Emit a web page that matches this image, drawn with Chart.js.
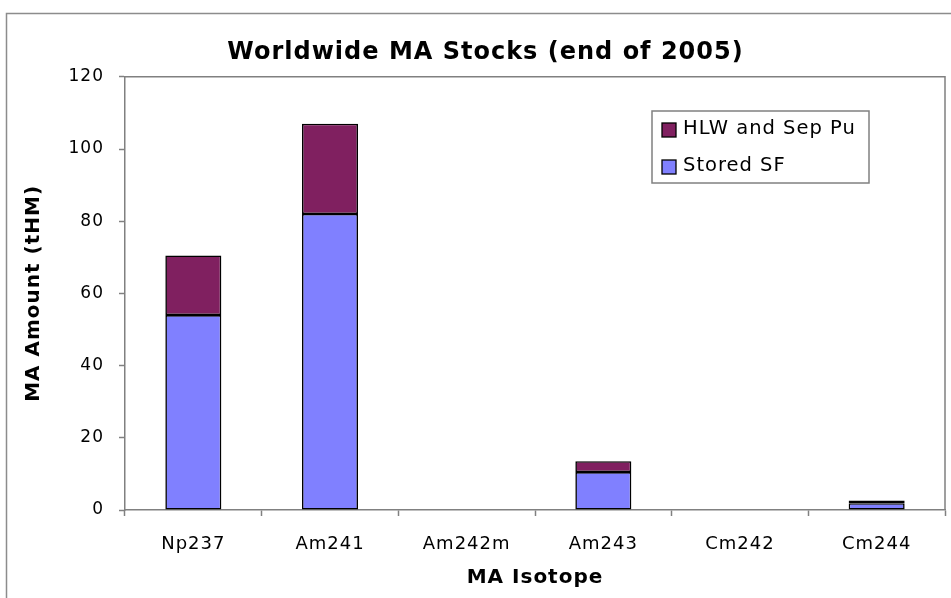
<!DOCTYPE html>
<html>
<head>
<meta charset="utf-8">
<script src="https://cdn.jsdelivr.net/npm/chart.js@4/dist/chart.umd.min.js"></script>
<style>
  html, body { margin: 0; padding: 0; background: #ffffff; }
  #wrap { width: 951px; height: 598px; position: relative; }
</style>
</head>
<body>
<div id="wrap"><canvas id="c" width="951" height="598"></canvas></div>
<script>
// Minor actinide inventories, tonnes of heavy metal
const isotopes = ['Np237', 'Am241', 'Am242m', 'Am243', 'Cm242', 'Cm244'];
const storedSF = [54, 82, 0, 10.5, 0, 1.9];
const hlwSepPu = [16.5, 25, 0, 3, 0, 0.7];
const yTicks = [0, 20, 40, 60, 80, 100, 120];

const FONT = '"DejaVu Sans", Verdana, sans-serif';
const GRAY = '#808080';
const SPACING = '1px';

// slightly open letter spacing for every label on the canvas
const spacingPlugin = {
  id: 'spacing',
  beforeUpdate(chart) { chart.ctx.letterSpacing = SPACING; },
  beforeDraw(chart) { chart.ctx.letterSpacing = SPACING; }
};

// white page with the outer frame and the plot-area border
const framePlugin = {
  id: 'frame',
  beforeDraw(chart) {
    const ctx = chart.ctx;
    ctx.save();
    ctx.fillStyle = '#ffffff';
    ctx.fillRect(0, 0, chart.width, chart.height);
    ctx.strokeStyle = '#8c8c8c';
    ctx.lineWidth = 1.5;
    ctx.beginPath();
    ctx.moveTo(6.5, chart.height + 2);
    ctx.lineTo(6.5, 13.5);
    ctx.lineTo(chart.width + 2, 13.5);
    ctx.stroke();
    ctx.restore();
  },
  afterDatasetsDraw(chart) {
    const a = chart.chartArea;
    const ctx = chart.ctx;
    ctx.save();
    ctx.strokeStyle = GRAY;
    ctx.lineWidth = 1.5;
    ctx.beginPath();
    ctx.moveTo(a.left, a.top);
    ctx.lineTo(a.right, a.top);
    ctx.lineTo(a.right, a.bottom);
    ctx.stroke();
    ctx.restore();
  }
};

// boxed legend inside the plot area, top series listed first
const boxLegend = {
  id: 'boxLegend',
  afterDraw(chart) {
    const ctx = chart.ctx;
    const x = 652, y = 111, w = 217, h = 72;
    ctx.save();
    ctx.fillStyle = '#ffffff';
    ctx.fillRect(x, y, w, h);
    ctx.strokeStyle = GRAY;
    ctx.lineWidth = 1.5;
    ctx.strokeRect(x, y, w, h);
    const items = chart.data.datasets.slice().reverse();
    ctx.font = '19.5px ' + FONT;
    ctx.textBaseline = 'middle';
    ctx.textAlign = 'left';
    items.forEach((ds, i) => {
      const cy = y + 19 + i * 37;
      ctx.fillStyle = ds.backgroundColor;
      ctx.fillRect(x + 10, cy - 7, 14, 14);
      ctx.strokeStyle = '#000000';
      ctx.lineWidth = 1.3;
      ctx.strokeRect(x + 10, cy - 7, 14, 14);
      ctx.fillStyle = '#000000';
      ctx.fillText(ds.label, x + 31, cy - 1);
    });
    ctx.restore();
  }
};

new Chart(document.getElementById('c'), {
  type: 'bar',
  data: {
    labels: isotopes,
    datasets: [
      { label: 'Stored SF', data: storedSF, backgroundColor: '#8080ff',
        borderColor: '#000000', borderWidth: 1.6, borderSkipped: false },
      { label: 'HLW and Sep Pu', data: hlwSepPu, backgroundColor: '#802060',
        borderColor: '#000000', borderWidth: 1.6, borderSkipped: false }
    ]
  },
  options: {
    responsive: false,
    animation: false,
    devicePixelRatio: 1,
    layout: { padding: { left: 26, right: 6, top: 0, bottom: 0 } },
    datasets: { bar: { barPercentage: 0.41, categoryPercentage: 1.0 } },
    plugins: {
      legend: { display: false },
      tooltip: { enabled: false },
      title: {
        display: true,
        text: 'Worldwide MA Stocks (end of 2005)',
        color: '#000000',
        font: { family: FONT, size: 24, weight: 'bold', lineHeight: 1.2 },
        padding: { top: 38, bottom: 10 }
      }
    },
    scales: {
      x: {
        stacked: true,
        grid: { display: true, drawOnChartArea: false, offset: true, color: GRAY, tickLength: 6, tickWidth: 1.5 },
        border: { display: true, color: GRAY, width: 1.5 },
        ticks: { color: '#000000', font: { family: FONT, size: 18 }, padding: 18, maxRotation: 0 },
        title: { display: true, text: 'MA Isotope', color: '#000000',
                 font: { family: FONT, size: 20, weight: 'bold' }, padding: { top: 0, bottom: 8 } },
        afterFit(scale) { scale.height = 88; }
      },
      y: {
        stacked: true,
        min: 0, max: 120,
        afterBuildTicks(scale) { scale.ticks = yTicks.map(v => ({ value: v })); },
        grid: { display: true, drawOnChartArea: false, color: GRAY, tickLength: 6, tickWidth: 1.5 },
        border: { display: true, color: GRAY, width: 1.5 },
        ticks: { color: '#000000', font: { family: FONT, size: 17 }, padding: 15 },
        title: { display: true, text: 'MA Amount (tHM)', color: '#000000',
                 font: { family: FONT, size: 20, weight: 'bold', lineHeight: 0.8 }, padding: { top: 0, bottom: 0 } },
        afterFit(scale) { scale.width = 99; }
      }
    }
  },
  plugins: [spacingPlugin, framePlugin, boxLegend]
});
</script>
</body>
</html>
